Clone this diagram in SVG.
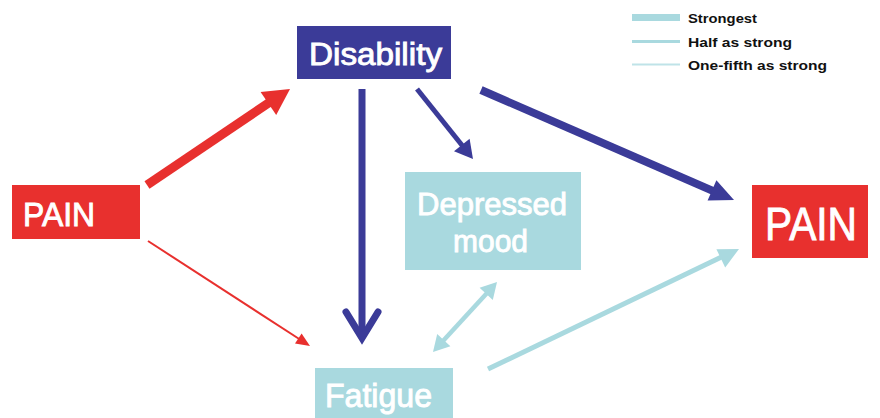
<svg xmlns="http://www.w3.org/2000/svg" width="880" height="418" viewBox="0 0 880 418">
<style>
.red{fill:#e8302e}
.blue{fill:#3b3b98}
.lb{fill:#a9d9df}
.lbl{font-family:"Liberation Sans",Arial,sans-serif;fill:#ffffff;stroke:#ffffff;stroke-width:0.9}
.leg{font-family:"Liberation Sans",Arial,sans-serif;font-weight:bold;font-size:12.5px;fill:#111111}
.rl{stroke:#e8302e;fill:none}
.bl{stroke:#3b3b98;fill:none}
.ll{stroke:#a9d9df;fill:none}
</style>
<rect width="880" height="418" fill="#ffffff"/>
<g id="legend">
<line class="ll" x1="632" y1="17.5" x2="680" y2="17.5" stroke-width="7"/>
<line class="ll" x1="632" y1="41.5" x2="680" y2="41.5" stroke-width="3"/>
<line x1="632" y1="64.5" x2="680" y2="64.5" stroke="#bfe3e8" stroke-width="2"/>
<text class="leg" x="688" y="23" textLength="69" lengthAdjust="spacingAndGlyphs">Strongest</text>
<text class="leg" x="688" y="47" textLength="104" lengthAdjust="spacingAndGlyphs">Half as strong</text>
<text class="leg" x="688" y="70" textLength="139" lengthAdjust="spacingAndGlyphs">One-fifth as strong</text>
</g>
<g id="connectors">
<line class="rl" x1="147" y1="185" x2="270" y2="102" stroke-width="9"/>
<polygon class="red" points="290,89 276.2,115.1 260.6,91.9"/>
<line class="rl" x1="148" y1="241" x2="300" y2="339.5" stroke-width="2"/>
<polygon class="red" points="310,346 295,343.4 301.6,333.4"/>
<line class="bl" x1="362" y1="89" x2="362" y2="336" stroke-width="7"/>
<polyline class="bl" points="346,312 362,338 378,312" stroke-width="7" stroke-linecap="round" stroke-linejoin="miter"/>
<line class="bl" x1="417" y1="89" x2="463" y2="146.5" stroke-width="5"/>
<polygon class="blue" points="473,159 454,151.2 469.6,138.8"/>
<line class="bl" x1="481" y1="90" x2="714" y2="191.3" stroke-width="8"/>
<polygon class="blue" points="734,200 707.6,200.5 716.4,180.3"/>
<line class="ll" x1="488" y1="369" x2="721" y2="257.2" stroke-width="5"/>
<polygon class="lb" points="739,249 725.2,267.4 716.4,249.2"/>
<line class="ll" x1="487.5" y1="292.5" x2="442.5" y2="341.5" stroke-width="4.5"/>
<polygon class="lb" points="497,282 492.8,299.9 479.6,287.7"/>
<polygon class="lb" points="433,352 450.4,346.3 437.2,334.1"/>
</g>
<g id="pain-left">
<rect class="red" x="12" y="185" width="128" height="54"/>
<text class="lbl" x="23" y="226" font-size="33" textLength="72" lengthAdjust="spacingAndGlyphs">PAIN</text>
</g>
<g id="disability">
<rect class="blue" x="297" y="26" width="154" height="53"/>
<text class="lbl" x="309" y="65" font-size="31" textLength="133" lengthAdjust="spacingAndGlyphs">Disability</text>
</g>
<g id="depressed-mood">
<rect class="lb" x="405" y="172" width="176" height="98"/>
<text class="lbl" x="417" y="215" font-size="32" textLength="150" lengthAdjust="spacingAndGlyphs">Depressed</text>
<text class="lbl" x="453" y="252" font-size="32" textLength="75" lengthAdjust="spacingAndGlyphs">mood</text>
</g>
<g id="fatigue">
<rect class="lb" x="315" y="368" width="138" height="60"/>
<text class="lbl" x="325" y="407" font-size="33" textLength="107" lengthAdjust="spacingAndGlyphs">Fatigue</text>
</g>
<g id="pain-right">
<rect class="red" x="752" y="185" width="116" height="73"/>
<text class="lbl" x="765" y="240" font-size="46" textLength="92" lengthAdjust="spacingAndGlyphs">PAIN</text>
</g>
</svg>
